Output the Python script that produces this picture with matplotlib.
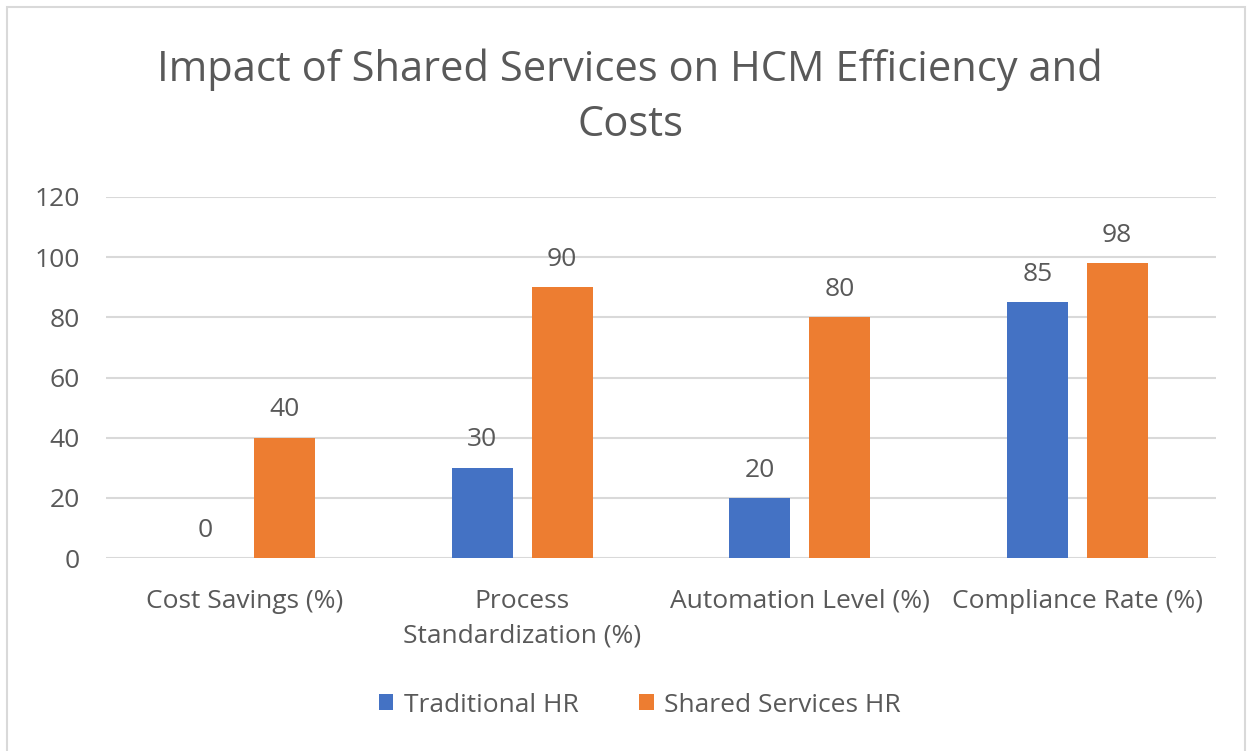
import numpy as np
import matplotlib.pyplot as plt
from matplotlib.patches import Rectangle

categories = ["Cost Savings (%)", "Process\nStandardization (%)",
              "Automation Level (%)", "Compliance Rate (%)"]
traditional = [0, 30, 20, 85]
shared = [40, 90, 80, 98]
series_names = ["Traditional HR", "Shared Services HR"]
yticks = [0, 20, 40, 60, 80, 100, 120]

blue = "#4472C4"
orange = "#ED7D31"
grey = "#595959"

plt.rcParams['font.family'] = ['Open Sans', 'DejaVu Sans']

W, H = 1250, 751
fig = plt.figure(figsize=(W / 100, H / 100), dpi=100)
ax = fig.add_axes([106 / W, 1 - 558 / H, 1110 / W, 361 / H])

x = np.arange(len(categories))
bw = 0.22
off = 0.144
b1 = ax.bar(x - off, traditional, bw, color=blue, label=series_names[0], zorder=3)
b2 = ax.bar(x + off, shared, bw, color=orange, label=series_names[1], zorder=3)

for bars in (b1, b2):
    for rect in bars:
        h = rect.get_height()
        ax.annotate(f"{h:g}", (rect.get_x() + rect.get_width() / 2, h),
                    xytext=(0, 11), textcoords="offset points",
                    ha="center", va="bottom", fontsize=19, color=grey)

ax.set_xlim(-0.5, len(categories) - 0.5)
ax.set_ylim(0, 120)
ax.set_yticks(yticks)
ax.yaxis.grid(True, color="#d9d9d9", linewidth=1.5, zorder=0)
ax.set_xticks(x)
ax.set_xticklabels(categories, fontsize=19, color=grey, linespacing=1.5)
ax.tick_params(axis="y", labelsize=19, labelcolor=grey, length=0, pad=19)
ax.tick_params(axis="x", length=0, pad=22)
for s in ax.spines.values():
    s.set_visible(False)

fig.text(630 / W, 1 - 97 / H, "Impact of Shared Services on HCM Efficiency and\nCosts",
         ha="center", va="center", fontsize=30, color=grey, linespacing=1.42)

fig.legend(handles=[b1, b2], loc="center", bbox_to_anchor=(640 / W, 1 - 705 / H),
           ncol=2, frameon=False, fontsize=19, labelcolor=grey,
           handlelength=0.55, handleheight=0.55, handletextpad=0.4, columnspacing=2.3)

fig.patches.append(Rectangle((7 / W, -0.01), 1238 / W, 1 - 7 / H + 0.01,
                             transform=fig.transFigure, fill=False,
                             edgecolor="#d9d9d9", linewidth=1.5))

fig.savefig("out.png", dpi=100)
